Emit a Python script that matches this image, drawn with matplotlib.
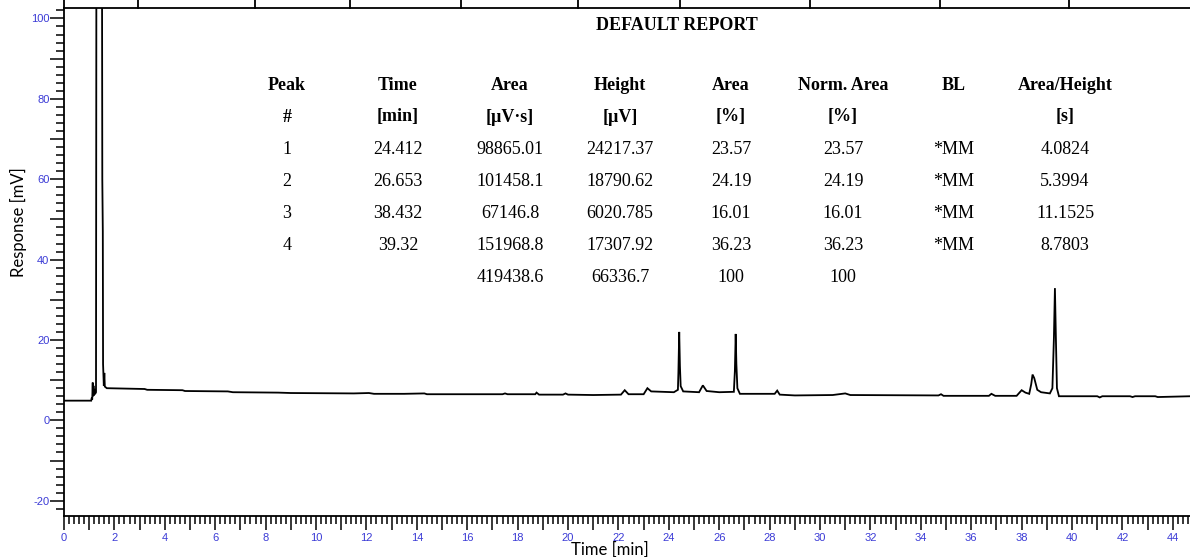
import matplotlib.pyplot as plt
from matplotlib.lines import Line2D
from matplotlib.ticker import MultipleLocator, FuncFormatter

# chromatogram trace, time [min] / response [mV]
trace_time = [0.00, 1.08, 1.10, 1.12, 1.14, 1.15, 1.17, 1.19, 1.21, 1.23, 1.27,
              1.29, 1.50, 1.52, 1.54, 1.55, 1.58, 1.60, 1.62, 1.70,
              3.20, 3.30, 4.70, 4.80, 6.50, 6.70, 8.50, 9.00, 11.5, 12.1, 12.3,
              13.5, 14.3, 14.4, 17.4, 17.5, 17.6, 18.7, 18.75, 18.85, 19.8,
              19.9, 20.0, 21.0, 22.1, 22.25, 22.4, 23.0, 23.15, 23.3, 24.2,
              24.36, 24.38, 24.412, 24.44, 24.47, 24.57, 25.2, 25.35, 25.5,
              26.0, 26.58, 26.62, 26.653, 26.68, 26.72, 26.82, 28.2, 28.3,
              28.4, 29.0, 30.5, 31.0, 31.2, 34.7, 34.8, 34.9, 36.7, 36.8,
              36.95, 37.8, 38.0, 38.15, 38.3, 38.38, 38.432, 38.5, 38.62,
              38.77, 39.12, 39.22, 39.28, 39.32, 39.36, 39.40, 39.48, 41.0,
              41.1, 41.2, 42.3, 42.4, 42.5, 43.3, 43.4, 44.7]
trace_mv = [4.9, 4.9, 5.6, 5.2, 9.4, 6.0, 8.6, 6.2, 7.8, 6.5, 7.0,
            150.0, 150.0, 60.0, 47.0, 14.0, 8.6, 11.8, 8.4, 8.0,
            7.8, 7.6, 7.5, 7.3, 7.2, 7.0, 6.9, 6.8, 6.7, 6.8, 6.6,
            6.6, 6.7, 6.5, 6.5, 6.7, 6.5, 6.5, 6.9, 6.4, 6.4,
            6.7, 6.4, 6.3, 6.4, 7.5, 6.5, 6.5, 8.0, 7.2, 7.0,
            7.6, 12.0, 22.0, 13.5, 8.5, 7.2, 7.0, 8.7, 7.3,
            7.0, 7.1, 12.2, 21.5, 14.0, 8.0, 6.6, 6.6, 7.4,
            6.4, 6.2, 6.3, 6.7, 6.3, 6.2, 6.5, 6.1, 6.1, 6.6,
            6.1, 6.1, 7.5, 6.9, 6.6, 9.0, 11.4, 10.5, 7.6,
            7.0, 6.7, 8.0, 20.5, 32.9, 20.0, 8.0, 6.0, 6.0,
            5.7, 6.0, 6.0, 5.8, 6.0, 6.0, 5.8, 6.0]

# report table
col_head1 = ['Peak', 'Time', 'Area', 'Height', 'Area', 'Norm. Area', 'BL', 'Area/Height']
col_head2 = ['#', '[min]', '[\u00b5V\u00b7s]', '[\u00b5V]', '[%]', '[%]', '', '[s]']
peak_no = ['1', '2', '3', '4']
peak_time = ['24.412', '26.653', '38.432', '39.32']
peak_area = ['98865.01', '101458.1', '67146.8', '151968.8']
peak_height = ['24217.37', '18790.62', '6020.785', '17307.92']
area_pct = ['23.57', '24.19', '16.01', '36.23']
norm_area_pct = ['23.57', '24.19', '16.01', '36.23']
baseline = ['*MM', '*MM', '*MM', '*MM']
area_height = ['4.0824', '5.3994', '11.1525', '8.7803']
totals = ['', '', '419438.6', '66336.7', '100', '100', '', '']

W, H = 1190, 557
fig = plt.figure(figsize=(W / 100, H / 100), dpi=100)
ax = fig.add_axes([64 / W, 1 - 516 / H, 1 - 64 / W, (516 - 8) / H])

ax.plot(trace_time, trace_mv, color='black', lw=1.3, solid_joinstyle='miter')
ax.set_xlim(0, 44.68)
ax.set_ylim(-23.8, 102.6)

tick_blue = '#3b3bd6'
ax.xaxis.set_major_locator(MultipleLocator(1))
ax.xaxis.set_minor_locator(MultipleLocator(0.2))
ax.xaxis.set_major_formatter(FuncFormatter(lambda v, p: '%d' % v if round(v) % 2 == 0 else ''))
ax.yaxis.set_major_locator(MultipleLocator(10))
ax.yaxis.set_minor_locator(MultipleLocator(2))
ax.yaxis.set_major_formatter(FuncFormatter(lambda v, p: '%d' % v if round(v) % 20 == 0 else ''))
ax.tick_params(which='major', length=10, width=1.1, color='black',
               labelsize=8, labelcolor=tick_blue)
ax.tick_params(which='minor', length=6, width=1.1, color='black')
ax.tick_params(axis='x', which='major', pad=2)
ax.tick_params(axis='y', which='major', pad=0.5)
for lab in ax.get_xticklabels() + ax.get_yticklabels():
    lab.set_family('Liberation Sans')

for side in ['left', 'bottom', 'top']:
    ax.spines[side].set_linewidth(1.3)
ax.spines['right'].set_visible(False)

ax.set_xlabel('Time [min]', family='Lato', fontsize=12)
ax.set_ylabel('Response [mV]', family='Lato', fontsize=12)
ax.xaxis.set_label_coords((610 - 64) / (W - 64), -0.066)
ax.yaxis.set_label_coords((18 - 64) / (W - 64), 0.579)
ax.xaxis.label.set_va('center')
ax.yaxis.label.set_va('center')

# table cell borders sticking out above the plot
for xp in [64, 138, 255, 350, 461, 578, 680, 810, 940, 1069]:
    fig.add_artist(Line2D([xp / W, xp / W], [1 - 8 / H, 1.0], color='black', lw=1.3))

# report text
col_x = [287, 398, 510, 620, 731, 843, 954, 1065]
serif = 'Liberation Serif'
fig.text(677 / W, 1 - 25 / H, 'DEFAULT REPORT', ha='center', va='center',
         family=serif, fontsize=13, fontweight='bold')
rows = [col_head1, col_head2]
body = list(zip(peak_no, peak_time, peak_area, peak_height, area_pct,
                norm_area_pct, baseline, area_height))
rows += [list(r) for r in body] + [totals]
for i, row in enumerate(rows):
    yp = 85 + i * 32
    for xp, txt in zip(col_x, row):
        fig.text(xp / W, 1 - yp / H, txt, ha='center', va='center', family=serif,
                 fontsize=13, fontweight='bold' if i < 2 else 'normal')

fig.savefig('out.png', dpi=100)
